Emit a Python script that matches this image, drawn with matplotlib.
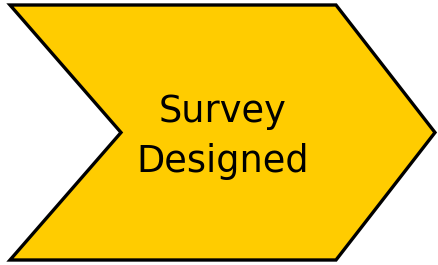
import matplotlib
matplotlib.use("Agg")
import matplotlib.pyplot as plt
from matplotlib.patches import Polygon

label_lines = ["Survey", "Designed"]
fill_color = "#FFCC00"

fig = plt.figure(figsize=(4.38, 2.65), dpi=100)
ax = fig.add_axes([0, 0, 1, 1])
ax.set_xlim(0, 438)
ax.set_ylim(265, 0)
ax.axis("off")

# chevron geometry (pixel space)
left, right_body, tip = 10, 336, 435
top, bottom = 5, 260
mid = (top + bottom) / 2
notch = 121
verts = [(left, top), (right_body, top), (tip, mid), (right_body, bottom),
         (left, bottom), (notch, mid)]
ax.add_patch(Polygon(verts, closed=True, facecolor=fill_color,
                     edgecolor="black", linewidth=2.4, joinstyle="miter"))

baselines = [122, 172]
for line, yb in zip(label_lines, baselines):
    ax.text(223, yb, line, ha="center", va="baseline",
            fontsize=26.5, family="DejaVu Sans", color="black")

fig.savefig("out.png", dpi=100)
